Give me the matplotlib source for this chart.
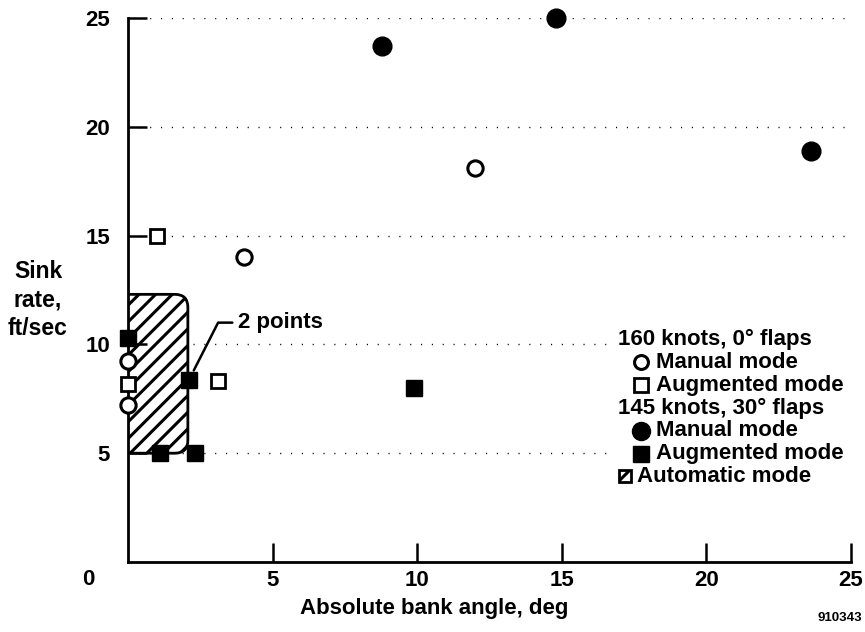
import matplotlib
matplotlib.use("Agg")
import matplotlib.pyplot as plt
from matplotlib.patches import FancyBboxPatch, Rectangle

plt.rcParams['font.family'] = ['Liberation Sans', 'DejaVu Sans']
plt.rcParams['font.weight'] = 'bold'
plt.rcParams['hatch.linewidth'] = 2.2

# 160 knots, 0 deg flaps
man160_x = [0.0, 0.0, 4.0, 12.0]
man160_y = [7.2, 9.25, 14.0, 18.1]
aug160_x = [0.0, 1.0, 3.1]
aug160_y = [8.2, 15.0, 8.3]
# 145 knots, 30 deg flaps
man145_x = [8.8, 14.8, 23.6]
man145_y = [23.7, 25.0, 18.9]
aug145_x = [0.0, 2.1, 1.1, 2.3, 9.9]
aug145_y = [10.3, 8.35, 5.0, 5.0, 8.0]
# automatic mode envelope
auto_x = [0.0, 2.07]
auto_y = [5.0, 12.3]

xticks = [5, 10, 15, 20, 25]
yticks = [5, 10, 15, 20, 25]

fig = plt.figure(figsize=(8.65, 6.32), dpi=100)
ax = fig.add_axes([128 / 865, 70 / 632, 723 / 865, 544 / 632])
ax.set_xlim(0, 25)
ax.set_ylim(0, 25)

for s in ['top', 'right']:
    ax.spines[s].set_visible(False)
for s in ['left', 'bottom']:
    ax.spines[s].set_linewidth(2.0)

ax.set_xticks(xticks)
ax.set_yticks(yticks)
ax.tick_params(direction='in', length=14, width=1.8, labelsize=16, pad=6)
ax.tick_params(axis='y', pad=13)
for y in yticks:
    ax.plot([0, 25], [y, y], color='black', lw=1.0, ls=(0, (0.8, 7)), zorder=0)
ax.text(0, 0, '0', fontsize=16, ha='center', va='top',
        transform=ax.transData + matplotlib.transforms.ScaledTranslation(-40 / 100, -7 / 100, fig.dpi_scale_trans))

# hatched automatic-mode region, left corners hidden behind the axis
xr = 28.92 / 21.76
box = FancyBboxPatch((auto_x[0] - 1.0, auto_y[0]), auto_x[1] - auto_x[0] + 1.0, auto_y[1] - auto_y[0],
                     boxstyle='round,pad=0,rounding_size=0.45', mutation_aspect=xr,
                     facecolor='white', edgecolor='black', lw=2.0, hatch='//', zorder=1)
ax.add_patch(box)

mk = dict(clip_on=False, zorder=3, ls='none')
ax.plot(man160_x, man160_y, marker='o', ms=11, mfc='white', mec='black', mew=2.2, **mk)
ax.plot(aug160_x, aug160_y, marker='s', ms=10, mfc='white', mec='black', mew=2.0, **mk)
ax.plot(man145_x, man145_y, marker='o', ms=13.5, mfc='black', mec='black', **mk)
ax.plot(aug145_x, aug145_y, marker='s', ms=11, mfc='black', mec='black', **mk)

ax.annotate('2 points', xy=(aug145_x[1], aug145_y[1]), xytext=(3.8, 11.0),
            fontsize=16, va='center', ha='left',
            arrowprops=dict(arrowstyle='-', lw=1.8, color='black', shrinkA=2, shrinkB=8,
                            connectionstyle='angle,angleA=180,angleB=63,rad=0'))

# legend drawn by hand (headers are indented differently from the keys)
def axp(px, py):
    return (px - 128) / 723, (562 - py) / 544

tr = ax.transAxes
bx, by = axp(608, 492)
ax.add_patch(Rectangle((bx, by), 260 / 723, 170 / 544, transform=tr, clip_on=False,
                       facecolor='white', edgecolor='none', zorder=1.5))
for txt, py in [('160 knots, 0° flaps', 339), ('145 knots, 30° flaps', 408)]:
    ax.text(*axp(618, py), txt, fontsize=16, va='center', ha='left', transform=tr, zorder=4)
keys = [('Manual mode', 362, dict(marker='o', ms=10, mfc='white', mec='black', mew=2.2)),
        ('Augmented mode', 385, dict(marker='s', ms=9.5, mfc='white', mec='black', mew=2.0)),
        ('Manual mode', 431, dict(marker='o', ms=13, mfc='black', mec='black')),
        ('Augmented mode', 454, dict(marker='s', ms=11, mfc='black', mec='black'))]
for txt, py, st in keys:
    ax.plot(*[[v] for v in axp(641, py)], transform=tr, clip_on=False, zorder=4, **st)
    ax.text(*axp(656, py), txt, fontsize=16, va='center', ha='left', transform=tr, zorder=4)
kx, ky = axp(619, 482)
ax.add_patch(Rectangle((kx, ky), 12 / 723, 12 / 544, transform=tr, clip_on=False, zorder=4,
                       facecolor='white', edgecolor='black', lw=2.0, hatch='/'))
ax.text(*axp(637, 476), 'Automatic mode', fontsize=16, va='center', ha='left', transform=tr, zorder=4)

ax.set_xlabel('Absolute bank angle, deg', fontsize=16, fontweight='bold')
ax.xaxis.set_label_coords((434 - 128) / 723, -36 / 544)
fig.text(38 / 865, 1 - 300 / 632, 'Sink\nrate,\nft/sec', fontsize=16.5, ha='center', va='center',
         linespacing=1.3)
fig.text(862 / 865, 1 - 618 / 632, '910343', fontsize=9.5, ha='right', va='center')

fig.savefig('out.png', dpi=100)
